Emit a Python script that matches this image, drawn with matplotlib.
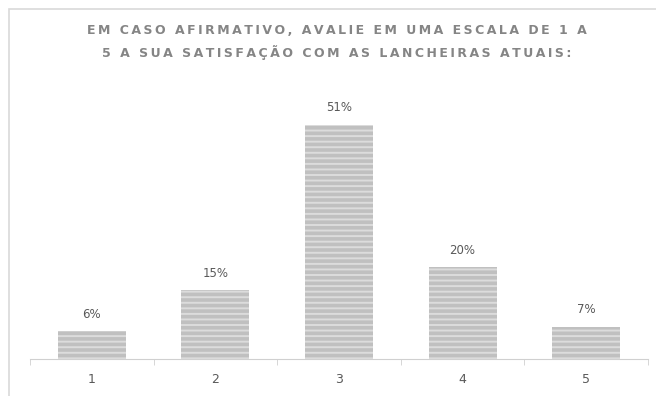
import matplotlib.pyplot as plt
from matplotlib.patches import Rectangle

# rating scale and share of answers (%)
categories = ["1", "2", "3", "4", "5"]
values = [6, 15, 51, 20, 7]
title_lines = ["EM CASO AFIRMATIVO, AVALIE EM UMA ESCALA DE 1 A",
               "5 A SUA SATISFAÇÃO COM AS LANCHEIRAS ATUAIS:"]

W, H = 656, 396
fig = plt.figure(figsize=(W / 100, H / 100), dpi=100)

# light frame around the chart area
fig.patches.append(Rectangle((9 / W, -0.1), 1.0, (H - 9) / H + 0.1,
                             transform=fig.transFigure, fill=False,
                             edgecolor="#d9d9d9", linewidth=1.2))

# axes placed in pixels: baseline at y=359, x from 30 to 648
left, right, bottom, top = 30, 648, H - 359, H - 90
ax = fig.add_axes([left / W, bottom / H, (right - left) / W, (top - bottom) / H])

plt.rcParams["hatch.linewidth"] = 1.4
x = list(range(1, len(values) + 1))
bars = ax.bar(x, values, width=0.55, color="#c0c0c0", edgecolor="#dcdcdc",
              linewidth=0, hatch="---")

for b, v in zip(bars, values):
    ax.text(b.get_x() + b.get_width() / 2, v + 2.3, f"{v}%", ha="center",
            va="bottom", fontsize=8.5, color="#595959")

ax.set_xlim(0.5, 5.5)
ax.set_ylim(0, (top - bottom) / 4.59)
ax.set_xticks(x)
ax.set_xticklabels(categories, fontsize=9, color="#595959")
ax.set_xticks([i + 0.5 for i in range(0, 6)], minor=True)
ax.tick_params(axis="x", which="major", length=0, pad=10)
ax.tick_params(axis="x", which="minor", length=4, color="#d0d0d0")
ax.set_yticks([])
for s in ["top", "right", "left"]:
    ax.spines[s].set_visible(False)
ax.spines["bottom"].set_color("#d0d0d0")

# letter-spaced title (thin spaces between characters)
spaced = "\n".join("\u2009".join(line) for line in title_lines)
fig.text(337 / W, (H - 42) / H, spaced, ha="center", va="center", fontsize=9,
         fontweight="bold", color="#858585", linespacing=1.7)

fig.savefig("out.png", dpi=100)
